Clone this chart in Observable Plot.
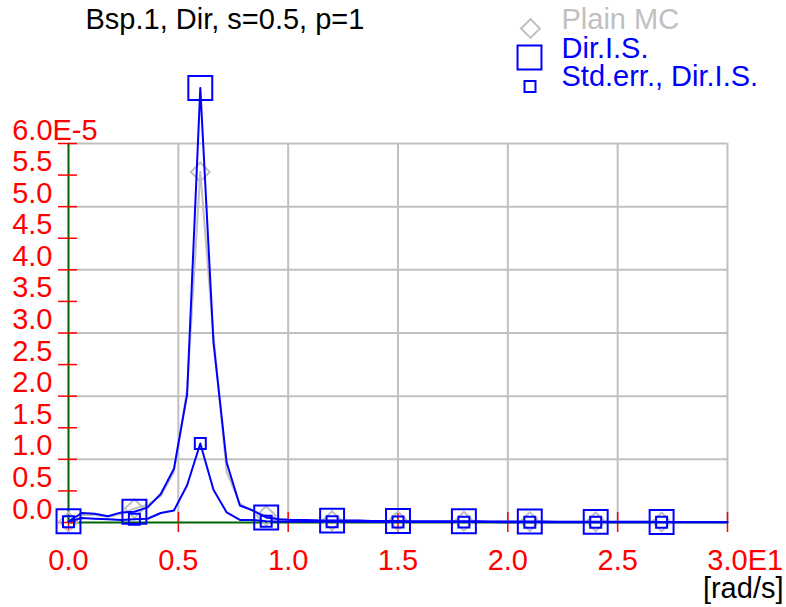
<!DOCTYPE html>
<html><head><meta charset="utf-8">
<script src="https://cdn.jsdelivr.net/npm/d3@7"></script>
<script src="https://cdn.jsdelivr.net/npm/@observablehq/plot@0.6"></script>
<style>body{margin:0;background:#fff;}</style>
</head><body><div id="chart"></div>
<script>
// frequency [rad/s]
const freq = [0,0.6,1.2,1.8,2.4,3,3.6,4.2,4.8,5.4,6,6.6,7.2,7.8,8.4,9,9.6,10.2,10.8,11.4,12,12.6,13.2,13.8,14.4,15,15.6,16.2,16.8,17.4,18,18.6,19.2,19.8,20.4,21,21.6,22.2,22.8,23.4,24,24.6,25.2,25.8,26.4,27,27.6,28.2,28.8,29.4,30];
// values in units of 1E-5
const plainMC = [0.01,0.12,0.12,0.09,0.14,0.22,0.28,0.42,0.80,2.10,5.55,2.95,0.80,0.30,0.18,0.11,0.05,0.04,0.04,0.035,0.03,0.03,0.03,0.025,0.025,0.025,0.02,0.02,0.02,0.02,0.02,0.02,0.015,0.015,0.015,0.015,0.015,0.01,0.01,0.01,0.01,0.01,0.01,0.01,0.01,0.008,0.008,0.007,0.006,0.006,0.005];
const dirIS = [0.02,0.15,0.14,0.10,0.16,0.17,0.24,0.45,0.85,2.03,6.88,2.85,0.95,0.27,0.19,0.08,0.05,0.04,0.04,0.03,0.03,0.03,0.03,0.025,0.025,0.025,0.02,0.02,0.02,0.02,0.02,0.02,0.015,0.015,0.015,0.015,0.015,0.01,0.01,0.01,0.01,0.01,0.01,0.01,0.01,0.008,0.008,0.007,0.006,0.006,0.005];
const stdErrDirIS = [0.01,0.07,0.06,0.05,0.04,0.05,0.06,0.15,0.19,0.59,1.25,0.52,0.16,0.04,0.04,0.02,0.015,0.012,0.01,0.01,0.01,0.01,0.01,0.008,0.008,0.008,0.008,0.007,0.007,0.007,0.006,0.006,0.006,0.005,0.005,0.005,0.005,0.004,0.004,0.004,0.004,0.004,0.004,0.003,0.003,0.003,0.003,0.003,0.003,0.003,0.003];
const markerFreq = [0,3,6,9,12,15,18,21,24,27];
const xTicks = [0,0.5,1,1.5,2,2.5,3];        // units of 1E1 rad/s
const yTicks = [0,0.5,1,1.5,2,2.5,3,3.5,4,4.5,5,5.5,6]; // units of 1E-5
const xGrid = [0.5,1,1.5,2,2.5,3];
const yGrid = [1,2,3,4,5,6];
const xExp = "E1", yExp = "E-5";
const title = "Bsp.1, Dir, s=0.5, p=1";
const seriesNames = ["Plain MC","Dir.I.S.","Std.err., Dir.I.S."];
const xUnit = "[rad/s]";

const rows = freq.map((w,i)=>({x:w/10, plain:plainMC[i], dir:dirIS[i], err:stdErrDirIS[i], m: markerFreq.includes(w)}));
const marks = rows.filter(d=>d.m);

const GRAY="#c0c0c0", BLUE="#0000ff", GREEN="#006400", RED="#ff0000";
const FS = 29;
const fmt = d3.format(".1f");
const lastX = xTicks[xTicks.length-1], lastY = yTicks[yTicks.length-1];
const halfW = 0.695*FS; // half width of "d.d"

const chart = Plot.plot({
  width: 786, height: 607,
  marginLeft: 68, marginRight: 59, marginTop: 143, marginBottom: 85,
  x: {domain:[0,3], axis:null},
  y: {domain:[0,6], axis:null},
  style: {fontFamily:"'Liberation Sans', Arial, sans-serif", fontSize:"29px", background:"#fff", overflow:"visible"},
  marks: [
    Plot.ruleX(xGrid, {stroke:GRAY, strokeWidth:2}),
    Plot.ruleY(yGrid, {stroke:GRAY, strokeWidth:2}),
    Plot.ruleX(xTicks, {y1:0, y2:0, insetTop:-10, insetBottom:-10, stroke:RED, strokeWidth:1.5}),
    Plot.ruleX([0], {stroke:GREEN, strokeWidth:2}),
    Plot.ruleY([0], {stroke:GREEN, strokeWidth:2}),
    Plot.ruleY(yTicks, {x1:0, x2:0, insetLeft:-10, insetRight:-9, stroke:RED, strokeWidth:1.5}),
    // data
    Plot.line(rows, {x:"x", y:"plain", stroke:GRAY, strokeWidth:2}),
    Plot.dot(marks, {x:"x", y:"plain", symbol:"diamond2", r:8.5, stroke:GRAY, strokeWidth:2, fill:"none"}),
    Plot.line(rows, {x:"x", y:"err", stroke:BLUE, strokeWidth:2}),
    Plot.line(rows, {x:"x", y:"dir", stroke:BLUE, strokeWidth:2}),
    Plot.dot(marks, {x:"x", y:"dir", symbol:"square", r:13.5, stroke:BLUE, strokeWidth:2, fill:"none"}),
    Plot.dot(marks, {x:"x", y:"err", symbol:"square", r:6.2, stroke:BLUE, strokeWidth:2, fill:"none"}),
    // tick labels
    Plot.text(yTicks.filter(v=>v!==lastY), {x:0, y:d=>d, text:d=>fmt(d), textAnchor:"end", lineAnchor:"bottom", dx:-16, dy:-4, fill:RED, fontSize:FS}),
    Plot.text([lastY], {x:0, y:d=>d, text:d=>fmt(d)+yExp, textAnchor:"start", lineAnchor:"bottom", dx:-16-2*halfW, dy:-4, fill:RED, fontSize:FS}),
    Plot.text(xTicks.filter(v=>v!==lastX), {x:d=>d, y:0, text:d=>fmt(d), textAnchor:"middle", lineAnchor:"bottom", dy:47, fill:RED, fontSize:FS}),
    Plot.text([lastX], {x:d=>d, y:0, text:d=>fmt(d)+xExp, textAnchor:"start", lineAnchor:"bottom", dx:-halfW, dy:47, fill:RED, fontSize:FS}),
    Plot.text([xUnit], {frameAnchor:"bottom-right", text:d=>d, textAnchor:"end", lineAnchor:"bottom", dx:56, dy:75, fill:"#000", fontSize:FS}),
    // title
    Plot.text([title], {frameAnchor:"top-left", text:d=>d, textAnchor:"start", lineAnchor:"bottom", dx:17, dy:-115, fill:"#000", fontSize:FS}),
    // legend
    Plot.dot([0], {frameAnchor:"top-left", dx:462, dy:-115, symbol:"diamond2", r:8.5, stroke:GRAY, strokeWidth:2, fill:"none"}),
    Plot.dot([0], {frameAnchor:"top-left", dx:461, dy:-86, symbol:"square", r:13.5, stroke:BLUE, strokeWidth:2, fill:"none"}),
    Plot.dot([0], {frameAnchor:"top-left", dx:461.5, dy:-57, symbol:"square", r:6.2, stroke:BLUE, strokeWidth:2, fill:"none"}),
    Plot.text([seriesNames[0]], {frameAnchor:"top-left", text:d=>d, textAnchor:"start", lineAnchor:"bottom", dx:493, dy:-115, fill:GRAY, fontSize:FS}),
    Plot.text([seriesNames[1]], {frameAnchor:"top-left", text:d=>d, textAnchor:"start", lineAnchor:"bottom", dx:493, dy:-86, fill:BLUE, fontSize:FS}),
    Plot.text([seriesNames[2]], {frameAnchor:"top-left", text:d=>d, textAnchor:"start", lineAnchor:"bottom", dx:493, dy:-58, fill:BLUE, fontSize:FS})
  ]
});
document.getElementById("chart").appendChild(chart);
</script>
</body></html>
